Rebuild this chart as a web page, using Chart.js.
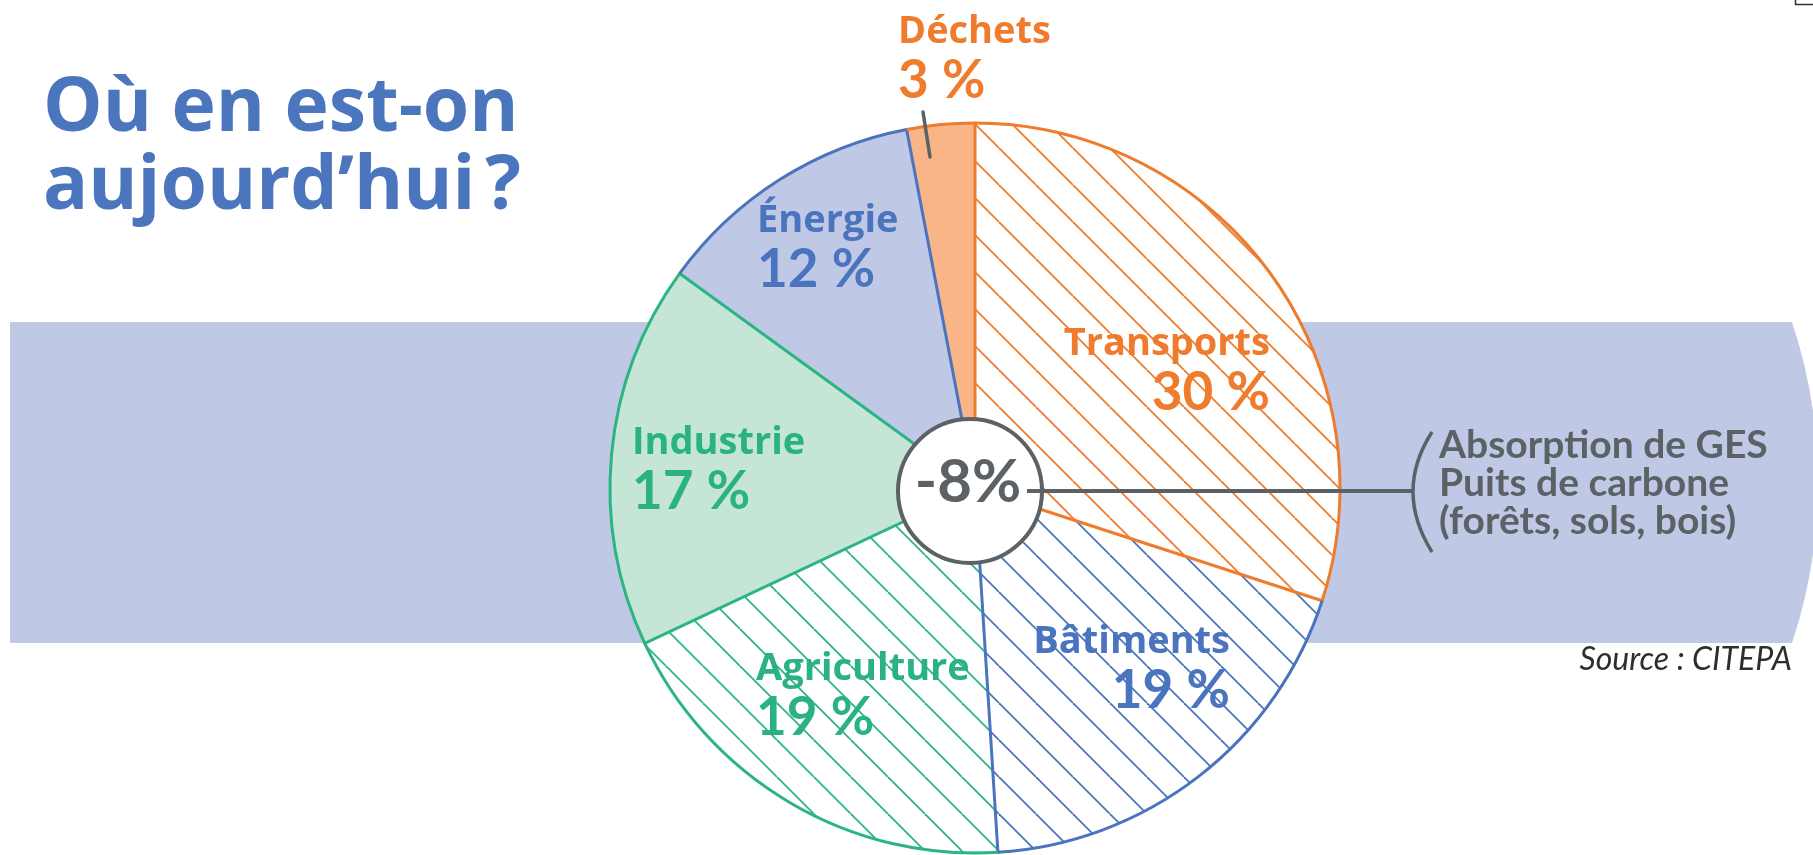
<!DOCTYPE html>
<html lang="fr">
<head>
<meta charset="UTF-8">
<title>Où en est-on aujourd'hui ?</title>
<script src="https://cdn.jsdelivr.net/npm/chart.js"></script>
<style>
  html, body { margin: 0; padding: 0; background: #fff; }
  canvas { display: block; }
</style>
</head>
<body>
<canvas id="pie" width="1813" height="855"></canvas>
<script>
// chart data
var sectors = ['Transports', 'Bâtiments', 'Agriculture', 'Industrie', 'Énergie', 'Déchets'];
var shares = [30, 19, 19, 17, 12, 3];
var absorption = -8;
var absorptionText = ['Absorption de GES', 'Puits de carbone', '(forêts, sols, bois)'];
var titleLines = ['Où en est-on', 'aujourd’hui\u202F?'];
var sourceText = 'Source : CITEPA';

// colours
var ORANGE = '#ef7b2c', BLUE = '#4a74bd', GREEN = '#2db485', GREY = '#5c6166';
var LAVENDER = '#bfc8e5', MINT = '#c5e5d7', PEACH = '#f9b588';
var lineColors = [ORANGE, BLUE, GREEN, GREEN, BLUE, ORANGE];

// label placement, offsets from the pie centre (name baseline)
var labelPos = [
    { dx: 295, dy: -133, align: 'right' },
    { dx: 255, dy: 165, align: 'right' },
    { dx: -219, dy: 192, align: 'left' },
    { dx: -343, dy: -34, align: 'left' },
    { dx: -218, dy: -256, align: 'left' },
    { dx: -77, dy: -445, align: 'left' }
];

function hatch(color) {
    var s = 37;
    var c = document.createElement('canvas');
    c.width = s; c.height = s;
    var g = c.getContext('2d');
    g.fillStyle = '#fff';
    g.fillRect(0, 0, s, s);
    g.strokeStyle = color;
    g.lineWidth = 1.8;
    for (var k = -1; k <= 1; k++) {
        g.beginPath();
        g.moveTo(k * s, 0);
        g.lineTo(k * s + s, s);
        g.stroke();
    }
    return g.createPattern(c, 'repeat');
}

var WIDE = '"Open Sans", Lato, sans-serif';
var NARROW = 'Lato, "Open Sans", sans-serif';

// band, title and other texts behind the pie
var backdrop = {
    id: 'backdrop',
    beforeDatasetsDraw: function (chart) {
        var ctx = chart.ctx;
        ctx.save();
        ctx.fillStyle = '#fff';
        ctx.fillRect(0, 0, chart.width, chart.height);

        // lavender band with rounded right end
        var top = 322, bot = 643, R = 508, cxb = 1310, cyb = (top + bot) / 2;
        var a = Math.asin((bot - top) / 2 / R);
        ctx.fillStyle = LAVENDER;
        ctx.beginPath();
        ctx.moveTo(10, top);
        ctx.lineTo(cxb + R * Math.cos(a), top);
        ctx.arc(cxb, cyb, R, -a, a);
        ctx.lineTo(10, bot);
        ctx.closePath();
        ctx.fill();

        // title
        ctx.fillStyle = '#4b76be';
        ctx.font = 'bold 75px ' + WIDE;
        ctx.textAlign = 'left';
        ctx.fillText(titleLines[0], 43, 131);
        ctx.fillText(titleLines[1], 43, 209);

        // source
        ctx.fillStyle = '#2e2e2e';
        ctx.font = 'italic 32px ' + NARROW;
        ctx.textAlign = 'right';
        ctx.fillText(sourceText, 1792, 670);

        // corner mark
        ctx.strokeStyle = '#333';
        ctx.lineWidth = 1.5;
        ctx.beginPath();
        ctx.moveTo(1795.5, 0);
        ctx.lineTo(1795.5, 4.5);
        ctx.lineTo(1813, 4.5);
        ctx.stroke();
        ctx.restore();
    }
};

// slice outlines, centre disc, labels
var overlay = {
    id: 'overlay',
    afterDatasetsDraw: function (chart) {
        var ctx = chart.ctx;
        var arcs = chart.getDatasetMeta(0).data;
        var cx = arcs[0].x, cy = arcs[0].y, r = arcs[0].outerRadius;
        ctx.save();
        ctx.lineWidth = 3;
        ctx.lineCap = 'round';
        arcs.forEach(function (el, i) {
            ctx.strokeStyle = lineColors[i];
            ctx.beginPath();
            ctx.moveTo(cx, cy);
            ctx.lineTo(cx + r * Math.cos(el.endAngle), cy + r * Math.sin(el.endAngle));
            ctx.stroke();
        });
        ctx.lineCap = 'butt';
        arcs.forEach(function (el, i) {
            ctx.strokeStyle = lineColors[i];
            ctx.beginPath();
            ctx.arc(cx, cy, r, el.startAngle, el.endAngle);
            ctx.stroke();
        });

        // labels
        arcs.forEach(function (el, i) {
            var p = labelPos[i];
            ctx.fillStyle = lineColors[i] === GREEN ? '#2bb283' : lineColors[i];
            ctx.textAlign = p.align;
            ctx.font = 'bold 38px ' + WIDE;
            ctx.fillText(sectors[i], cx + p.dx, cy + p.dy);
            ctx.font = 'bold 53px ' + NARROW;
            ctx.fillText(shares[i] + '\u202F%', cx + p.dx, cy + p.dy + 55);
        });

        // leader for the small slice
        ctx.strokeStyle = GREY;
        ctx.lineWidth = 3.5;
        ctx.lineCap = 'round';
        ctx.beginPath();
        ctx.moveTo(cx - 52, cy - 376);
        ctx.lineTo(cx - 45, cy - 331);
        ctx.stroke();

        // centre disc
        var hx = cx - 5, hy = cy + 3;
        ctx.fillStyle = '#fff';
        ctx.lineWidth = 4;
        ctx.beginPath();
        ctx.arc(hx, hy, 72, 0, Math.PI * 2);
        ctx.fill();
        ctx.stroke();
        ctx.fillStyle = GREY;
        ctx.font = 'bold 60px ' + NARROW;
        ctx.textAlign = 'center';
        ctx.fillText(absorption + '%', hx - 2, hy + 11);

        // connector and bracket
        ctx.lineCap = 'butt';
        ctx.lineWidth = 4;
        ctx.beginPath();
        ctx.moveTo(hx + 57, hy);
        ctx.lineTo(1414, hy);
        ctx.stroke();
        ctx.lineWidth = 3.5;
        ctx.beginPath();
        ctx.moveTo(1432, hy - 59);
        ctx.quadraticCurveTo(1394, hy, 1432, hy + 61);
        ctx.stroke();

        ctx.fillStyle = GREY;
        ctx.font = 'bold 39px ' + NARROW;
        ctx.textAlign = 'left';
        absorptionText.forEach(function (t, k) {
            ctx.fillText(t, 1439, 458 + k * 38);
        });
        ctx.restore();
    }
};

new Chart(document.getElementById('pie').getContext('2d'), {
    type: 'pie',
    data: {
        labels: sectors,
        datasets: [{
            data: shares,
            backgroundColor: [hatch(ORANGE), hatch(BLUE), hatch(GREEN), MINT, LAVENDER, PEACH],
            borderWidth: 0,
            hoverOffset: 0
        }]
    },
    options: {
        responsive: false,
        animation: false,
        layout: { padding: { left: 610, right: 473, top: 123, bottom: 2 } },
        plugins: { legend: { display: false }, tooltip: { enabled: false } }
    },
    plugins: [backdrop, overlay]
});
</script>
</body>
</html>
